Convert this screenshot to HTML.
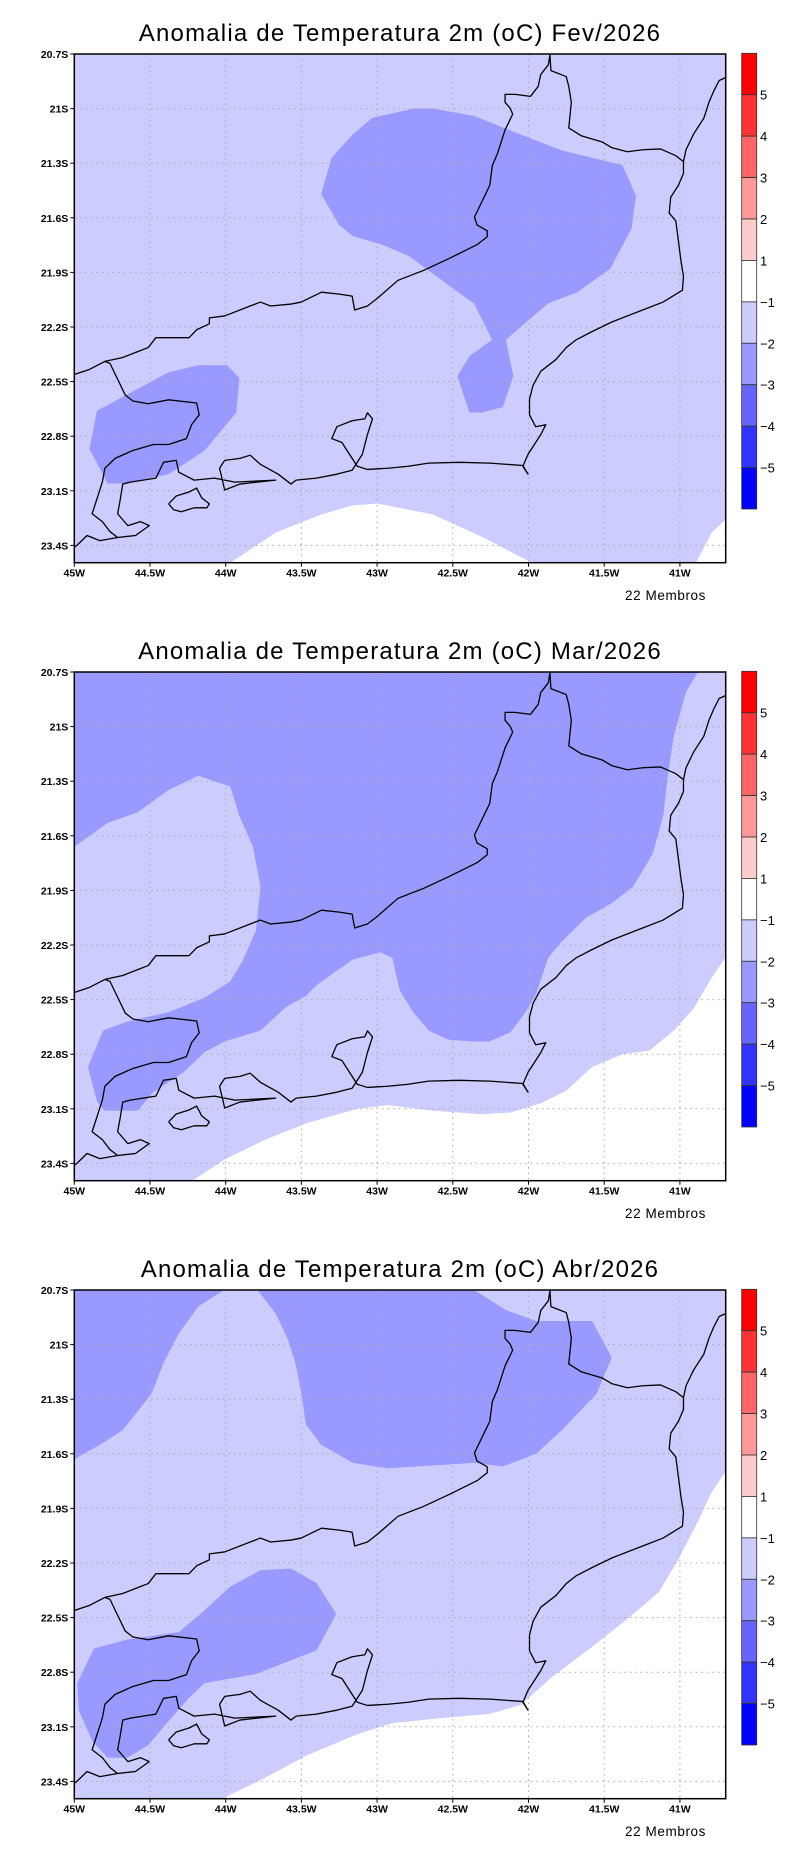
<!DOCTYPE html>
<html><head><meta charset="utf-8">
<style>
html,body{margin:0;padding:0;background:#fff;}
svg{display:block;font-family:"Liberation Sans",sans-serif;}
</style></head>
<body>
<svg id="root" width="800" height="1854" viewBox="0 0 800 1854" xmlns="http://www.w3.org/2000/svg"></svg>
<script>
// ---- data ----
const panelTitles = ["Anomalia de Temperatura 2m (oC) Fev/2026","Anomalia de Temperatura 2m (oC) Mar/2026","Anomalia de Temperatura 2m (oC) Abr/2026"];
const lonTicks = [-45,-44.5,-44,-43.5,-43,-42.5,-42,-41.5,-41];
const lonTickLabels = ["45W","44.5W","44W","43.5W","43W","42.5W","42W","41.5W","41W"];
const latTicks = [20.7,21,21.3,21.6,21.9,22.2,22.5,22.8,23.1,23.4];
const latTickLabels = ["20.7S","21S","21.3S","21.6S","21.9S","22.2S","22.5S","22.8S","23.1S","23.4S"];
const cbarColors = ["#ff0000","#ff3333","#ff6666","#ff9999","#ffcccc","#ffffff","#ccccff","#9999ff","#6666ff","#3333ff","#0000ff"];
const cbarLabels = ["5","4","3","2","1","-1","-2","-3","-4","-5"];
// contour polygons [lon, lat(S positive)], with fill level
const febMid = [[-43.37,21.47],[-43.30,21.27],[-43.16,21.14],[-43.03,21.05],[-42.76,21.00],[-42.63,21.00],[-42.36,21.04],[-42.15,21.11],[-41.78,21.23],[-41.38,21.31],[-41.29,21.48],[-41.32,21.66],[-41.46,21.88],[-41.68,22.01],[-41.87,22.07],[-42.15,22.27],[-42.10,22.47],[-42.17,22.64],[-42.31,22.67],[-42.39,22.67],[-42.47,22.47],[-42.39,22.36],[-42.24,22.27],[-42.36,22.07],[-42.53,21.97],[-42.79,21.81],[-42.96,21.75],[-43.16,21.70],[-43.25,21.64]];
const febSW = [[-44.90,22.87],[-44.85,22.66],[-44.38,22.45],[-44.18,22.41],[-43.99,22.41],[-43.91,22.48],[-43.93,22.67],[-44.14,22.88],[-44.38,23.01],[-44.68,23.06],[-44.78,23.06]];
const febWhite = [[-43.99,23.6],[-43.96,23.49],[-43.67,23.33],[-43.37,23.23],[-43.16,23.18],[-43.0,23.17],[-42.63,23.23],[-42.29,23.36],[-41.99,23.49],[-41.96,23.6]];
const febWhiteE = [[-40.92,23.6],[-40.89,23.49],[-40.79,23.33],[-40.7,23.26],[-40.6,23.2],[-40.6,23.6]];
const marMid = [[-45.1,20.6],[-40.85,20.6],[-40.88,20.7],[-40.96,20.81],[-41.04,21.05],[-41.08,21.27],[-41.11,21.49],[-41.18,21.70],[-41.31,21.88],[-41.45,21.97],[-41.62,22.05],[-41.78,22.18],[-41.87,22.27],[-41.95,22.47],[-42.02,22.57],[-42.12,22.68],[-42.26,22.73],[-42.37,22.73],[-42.53,22.72],[-42.66,22.67],[-42.76,22.57],[-42.85,22.45],[-42.90,22.27],[-42.98,22.24],[-43.16,22.28],[-43.40,22.42],[-43.47,22.48],[-43.60,22.54],[-43.77,22.67],[-44.01,22.73],[-44.14,22.79],[-44.28,22.90],[-44.48,23.01],[-44.58,23.11],[-44.80,23.11],[-44.85,23.06],[-44.91,22.87],[-44.81,22.67],[-44.65,22.62],[-44.38,22.57],[-44.14,22.49],[-43.97,22.40],[-43.89,22.29],[-43.80,22.12],[-43.77,21.88],[-43.82,21.66],[-43.91,21.49],[-43.97,21.33],[-44.18,21.27],[-44.38,21.35],[-44.58,21.47],[-44.78,21.53],[-45,21.66],[-45.1,21.7]];
const marWhite = [[-44.25,23.6],[-44.21,23.49],[-44.01,23.38],[-43.74,23.27],[-43.47,23.18],[-43.13,23.10],[-42.93,23.08],[-42.63,23.11],[-42.32,23.13],[-42.12,23.12],[-41.92,23.07],[-41.75,23.00],[-41.58,22.87],[-41.38,22.80],[-41.20,22.78],[-41.04,22.67],[-40.91,22.55],[-40.79,22.38],[-40.70,22.27],[-40.6,22.2],[-40.6,23.6]];
const abrMidA = [[-45.1,20.6],[-44.0,20.6],[-44.01,20.7],[-44.18,20.79],[-44.31,20.94],[-44.41,21.10],[-44.49,21.27],[-44.68,21.47],[-44.81,21.54],[-45,21.63],[-45.1,21.66]];
const abrMidB = [[-43.82,20.6],[-43.79,20.7],[-43.67,20.83],[-43.59,20.97],[-43.54,21.10],[-43.50,21.27],[-43.47,21.44],[-43.37,21.55],[-43.16,21.65],[-42.93,21.68],[-42.56,21.66],[-42.36,21.65],[-42.17,21.67],[-41.95,21.60],[-41.78,21.47],[-41.55,21.27],[-41.45,21.07],[-41.58,20.87],[-41.95,20.87],[-42.15,20.81],[-42.36,20.7],[-42.45,20.6]];
const abrMidC = [[-44.98,22.86],[-44.87,22.67],[-44.65,22.62],[-44.31,22.58],[-44.18,22.49],[-43.97,22.33],[-43.77,22.24],[-43.57,22.23],[-43.40,22.31],[-43.27,22.48],[-43.40,22.68],[-43.80,22.81],[-44.14,22.86],[-44.24,22.94],[-44.38,23.07],[-44.51,23.20],[-44.65,23.27],[-44.78,23.27],[-44.88,23.18],[-44.97,23.01]];
const abrWhite = [[-44.05,23.6],[-44.01,23.49],[-43.74,23.38],[-43.47,23.26],[-43.13,23.14],[-42.90,23.08],[-42.56,23.05],[-42.26,23.03],[-42.05,22.98],[-41.85,22.83],[-41.58,22.66],[-41.35,22.51],[-41.14,22.36],[-41.01,22.18],[-40.88,21.97],[-40.79,21.81],[-40.70,21.70],[-40.6,21.6],[-40.6,23.6]];
const panelFields = [
  [[febMid,"#9999ff"],[febSW,"#9999ff"],[febWhite,"#ffffff"],[febWhiteE,"#ffffff"]],
  [[marMid,"#9999ff"],[marWhite,"#ffffff"]],
  [[abrMidA,"#9999ff"],[abrMidB,"#9999ff"],[abrMidC,"#9999ff"],[abrWhite,"#ffffff"]]
];
// ---- geometry ----
const L=74.3,T=54,R=725.7,B=562.7,PH=618;
const px = lon => L + (lon+45)*151.4;
const py = (lat,off) => off + T + (lat-20.7)*182;
// coastline digitised in reference units
const rx = v => L + (v-145)/297*151.4;
const ry = (v,off) => off + T + (v-138)/460*182;
const coastLines = [
 [[145,948],[175,935],[205,915],[240,905],[270,890],[290,880],[305,855],[330,855],[370,855],[385,835],[410,820],[410,805],[440,800],[490,775],[510,765],[530,775],[570,770],[590,765],[630,740],[665,745],[690,750],[695,785],[720,775],[740,755],[780,710],[830,685],[880,655],[935,620],[955,600],[955,585],[935,570],[930,550],[945,510],[960,470],[965,420],[975,390],[990,330],[1005,290],[1000,275],[990,260],[990,240],[1010,240],[1040,245],[1055,220],[1060,190],[1075,165],[1078,140]],
 [[1078,140],[1080,180],[1110,195],[1115,220],[1120,260],[1115,325],[1140,345],[1180,360],[1200,375],[1230,385],[1260,380],[1295,378],[1325,395],[1340,410]],
 [[1422,198],[1410,205],[1400,230],[1390,260],[1380,300],[1360,340],[1345,380],[1340,410],[1340,440],[1330,470],[1315,500],[1312,540],[1325,560],[1330,610],[1335,660],[1340,700],[1338,735],[1300,765],[1260,785],[1200,815],[1160,840],[1130,860],[1110,880],[1090,910],[1060,940],[1045,975],[1038,1010],[1038,1050],[1050,1080],[1070,1075],[1060,1100],[1045,1130],[1035,1150],[1025,1180],[1035,1200],[1025,1178],[960,1172],[900,1170],[840,1172],[800,1180],[760,1185],[720,1188],[700,1180],[690,1160],[670,1120],[650,1110],[660,1080],[690,1065],[715,1060],[720,1045],[730,1060],[720,1100],[710,1150],[690,1190],[660,1200],[620,1210],[580,1215],[570,1225],[545,1200],[510,1175],[490,1152],[470,1160],[440,1165],[430,1185],[440,1240],[470,1225],[540,1215],[460,1220],[420,1210],[380,1215],[350,1195],[345,1165],[320,1170],[305,1210],[255,1220],[240,1225],[235,1265],[230,1300],[250,1330],[275,1320],[292,1330],[265,1355],[230,1360],[195,1368],[170,1355],[150,1380],[145,1385]],
 [[205,915],[215,920],[230,960],[245,1000],[260,1015],[290,1022],[330,1012],[385,1020],[390,1050],[375,1075],[365,1110],[330,1125],[300,1125],[260,1140],[225,1160],[205,1185],[200,1220],[190,1260],[180,1300],[200,1320],[215,1345],[230,1360]],
 [[330,1275],[345,1255],[370,1245],[385,1235],[395,1260],[410,1275],[405,1285],[380,1285],[355,1295],[340,1290],[330,1275]]
];
const NS="http://www.w3.org/2000/svg";
const root=document.getElementById('root');
function mk(tag,attrs,parent){const e=document.createElementNS(NS,tag);for(const k in attrs)e.setAttribute(k,attrs[k]);(parent||root).appendChild(e);return e;}
const defs=mk('defs',{});
const cp=mk('clipPath',{id:'frameclip'},defs);
mk('rect',{x:L,y:T,width:R-L,height:B-T},cp);

panelTitles.forEach((title,i)=>{
  const off=i*PH;
  const g=mk('g',{});
  
  
  const t=mk('text',{x:400,y:off+41,'text-anchor':'middle','font-size':'24',fill:'#000','letter-spacing':'1.2'},g);
  
  
  t.textContent=title;
  const plot=mk('g',{'clip-path':'url(#frameclip)',transform:'translate(0,'+off+')'},g);
  const bg=mk('rect',{x:L,y:T,width:R-L,height:B-T,fill:'#ccccff'},plot);
  
  
  panelFields[i].forEach(([poly,col],k)=>{
    const p=mk('polygon',{points:poly.map(q=>px(q[0])+','+py(q[1],0)).join(' '),fill:col},plot);
    
    
  });
  // grid
  lonTicks.slice(1).forEach(lo=>{const l=mk('line',{x1:px(lo),x2:px(lo),y1:T,y2:B,stroke:'#aaa','stroke-width':1,'stroke-dasharray':'1.5,4'},plot);
    });
  latTicks.slice(1).forEach(la=>{const l=mk('line',{x1:L,x2:R,y1:py(la,0),y2:py(la,0),stroke:'#aaa','stroke-width':1,'stroke-dasharray':'1.5,4'},plot);
    });
  coastLines.forEach(cl=>{const l=mk('polyline',{points:cl.map(q=>rx(q[0])+','+ry(q[1],0)).join(' '),fill:'none',stroke:'#000','stroke-width':1.3,'stroke-linejoin':'round'},plot);
    });
  const fr=mk('rect',{x:L,y:off+T,width:R-L,height:B-T,fill:'none',stroke:'#000','stroke-width':1.5},g);
  
  
  latTicks.forEach((la,k)=>{
    mk('line',{x1:L-4,x2:L,y1:py(la,off),y2:py(la,off),stroke:'#000','stroke-width':1},g);
    const tx=mk('text',{x:L-6,y:py(la,off)+4,'text-anchor':'end','font-size':'10.5','font-weight':'bold'},g);
    
    
    tx.textContent=latTickLabels[k];
  });
  lonTicks.forEach((lo,k)=>{
    mk('line',{x1:px(lo),x2:px(lo),y1:off+B,y2:off+B+4,stroke:'#000','stroke-width':1},g);
    const tx=mk('text',{x:px(lo),y:off+B+14,'text-anchor':'middle','font-size':'10.5','font-weight':'bold'},g);
    
    
    tx.textContent=lonTickLabels[k];
  });
  const mb=mk('text',{x:706,y:off+600,'text-anchor':'end','font-size':'13.5','letter-spacing':'0.6'},g);
  
  
  mb.textContent='22 Membros';
  // colorbar
  const cb=mk('g',{},g);
  
  
  const cy0=off+53.3, seg=(509-53.3)/cbarColors.length;
  cbarColors.forEach((c,k)=>{const r=mk('rect',{x:741.7,y:cy0+k*seg,width:15,height:seg,fill:c,stroke:'#333','stroke-width':0.8},cb);
    });
  cbarLabels.forEach((lb,k)=>{const tx=mk('text',{x:760,y:cy0+(k+1)*seg+5,'font-size':'13'},cb);
    
    tx.textContent=lb.replace('-','\u2212');});
});
</script>
</body></html>
